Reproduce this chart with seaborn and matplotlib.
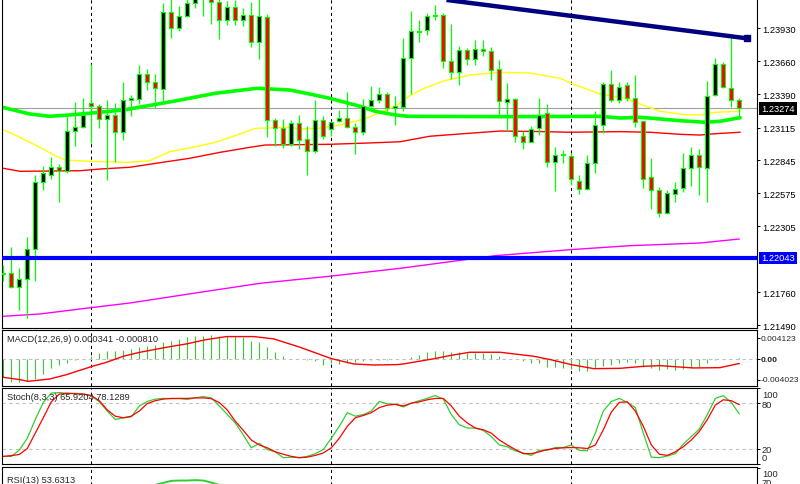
import matplotlib
matplotlib.use("Agg")
import matplotlib.pyplot as plt
import matplotlib.transforms as mtransforms
import seaborn as sns

# ---- candles ----
opens = [1.21917, 1.21917, 1.21802, 1.21868, 1.22114, 1.22665, 1.22728, 1.22788, 1.22755, 1.23084,
         1.23117, 1.23314, 1.23295, 1.23182, 1.23215, 1.23076, 1.23341, 1.23347, 1.23552, 1.23486,
         1.23429, 1.24062, 1.23930, 1.24029, 1.24135, 1.24239, 1.24212, 1.24144, 1.24001, 1.24103,
         1.23996, 1.24040, 1.23821, 1.24020, 1.23180, 1.23109, 1.22983, 1.23150, 1.23018, 1.22925,
         1.23174, 1.23100, 1.23166, 1.23191, 1.23117, 1.23076, 1.23289, 1.23344, 1.23388, 1.23276,
         1.23284, 1.23684, 1.23903, 1.23919, 1.24034, 1.24040, 1.23659, 1.23569, 1.23749, 1.23675,
         1.23758, 1.23741, 1.23593, 1.23322, 1.23347, 1.23043, 1.22999, 1.23109, 1.23232, 1.22835,
         1.22889, 1.22878, 1.22679, 1.22607, 1.22821, 1.23139, 1.23475, 1.23339, 1.23465, 1.23355,
         1.23166, 1.22706, 1.22605, 1.22410, 1.22566, 1.22616, 1.22780, 1.22887, 1.22780, 1.23385,
         1.23634, 1.23437, 1.23339]
highs = [1.21986, 1.22134, 1.21958, 1.22216, 1.22725, 1.22802, 1.22873, 1.22813, 1.23213, 1.23328,
         1.23360, 1.23634, 1.23306, 1.23344, 1.23317, 1.23489, 1.23382, 1.23629, 1.23596, 1.23555,
         1.24138, 1.24185, 1.24116, 1.24185, 1.24212, 1.24281, 1.24253, 1.24198, 1.24157, 1.24163,
         1.24094, 1.24144, 1.24185, 1.24048, 1.23193, 1.23185, 1.23177, 1.23218, 1.23128, 1.23341,
         1.23210, 1.23172, 1.23256, 1.23407, 1.23152, 1.23349, 1.23454, 1.23448, 1.23404, 1.23371,
         1.23848, 1.24072, 1.23999, 1.24056, 1.24122, 1.24056, 1.23966, 1.23785, 1.23768, 1.23831,
         1.23831, 1.23777, 1.23670, 1.23481, 1.23355, 1.23089, 1.23130, 1.23360, 1.23306, 1.22952,
         1.22931, 1.22909, 1.22725, 1.22889, 1.23251, 1.23492, 1.23588, 1.23486, 1.23489, 1.23547,
         1.23172, 1.22865, 1.22624, 1.22599, 1.22668, 1.22906, 1.22955, 1.22941, 1.23497, 1.23684,
         1.23653, 1.23878, 1.23358]
lows = [1.21857, 1.21794, 1.21619, 1.21548, 1.21857, 1.22605, 1.22692, 1.22506, 1.22739, 1.22966,
        1.23114, 1.22988, 1.23109, 1.22687, 1.22835, 1.23015, 1.23213, 1.23308, 1.23426, 1.23273,
        1.23333, 1.23853, 1.23911, 1.24023, 1.24097, 1.24034, 1.23966, 1.23842, 1.23960, 1.23960,
        1.23946, 1.23774, 1.23678, 1.23037, 1.22966, 1.22950, 1.22963, 1.22939, 1.22728, 1.22906,
        1.23024, 1.23048, 1.23158, 1.23109, 1.22900, 1.23056, 1.23281, 1.23317, 1.23254, 1.23139,
        1.23254, 1.23391, 1.23815, 1.23878, 1.24001, 1.23604, 1.23514, 1.23467, 1.23632, 1.23632,
        1.23705, 1.23506, 1.23207, 1.23089, 1.22999, 1.22941, 1.22999, 1.23056, 1.22794, 1.22596,
        1.22826, 1.22646, 1.22572, 1.22605, 1.22744, 1.23073, 1.23322, 1.23319, 1.23336, 1.23122,
        1.22618, 1.22449, 1.22383, 1.22402, 1.22506, 1.22588, 1.22635, 1.22564, 1.22506, 1.23374,
        1.23440, 1.23287, 1.23185]
closes = [1.21909, 1.21802, 1.21868, 1.22114, 1.22665, 1.22739, 1.22788, 1.22755, 1.23084, 1.23117,
          1.23215, 1.23295, 1.23182, 1.23215, 1.23076, 1.23339, 1.23355, 1.23552, 1.23486, 1.23437,
          1.24067, 1.23930, 1.24029, 1.24135, 1.24179, 1.24198, 1.24144, 1.23996, 1.24103, 1.24001,
          1.24037, 1.23821, 1.24029, 1.23180, 1.23109, 1.22983, 1.23150, 1.23010, 1.22925, 1.23174,
          1.23043, 1.23158, 1.23191, 1.23117, 1.23076, 1.23289, 1.23339, 1.23388, 1.23278, 1.23292,
          1.23684, 1.23905, 1.23908, 1.24029, 1.24040, 1.23659, 1.23569, 1.23749, 1.23675, 1.23758,
          1.23741, 1.23590, 1.23330, 1.23347, 1.23043, 1.22999, 1.23106, 1.23221, 1.22835, 1.22887,
          1.22895, 1.22690, 1.22607, 1.22821, 1.23139, 1.23475, 1.23339, 1.23451, 1.23355, 1.23158,
          1.22695, 1.22602, 1.22410, 1.22574, 1.22607, 1.22780, 1.22887, 1.22794, 1.23377, 1.23634,
          1.23451, 1.23339, 1.23274]

# moving averages (bar index, price)
ma_green_x = [-0.4, 3.3, 5.8, 8.3, 12.1, 15.2, 21.5, 26.5, 31.7, 35.8, 38.3, 40.8, 44.6, 46.5,
              49.0, 50.6, 62.7, 74.6, 77.1, 79.6, 84.6, 87.7, 89.6, 92.1]
ma_green = [1.23286, 1.23226, 1.23207, 1.23218, 1.23240, 1.23261, 1.23333, 1.23396, 1.23437, 1.23423,
            1.23390, 1.23355, 1.23289, 1.23248, 1.23218, 1.23207, 1.23204, 1.23207, 1.23193, 1.23199,
            1.23171, 1.23158, 1.23166, 1.23196]
ma_yellow_x = [0.0, 2.1, 4.6, 6.5, 7.7, 10.8, 15.8, 18.3, 20.8, 24.0, 26.5, 29.0, 31.5, 35.8, 37.1,
               39.6, 42.1, 44.0, 45.8, 47.1, 49.0, 50.8, 52.7, 55.2, 58.3, 62.1, 65.8, 69.6, 71.5,
               73.3, 74.6, 77.7, 79.6, 82.1, 85.2, 87.1, 89.0, 92.1]
ma_yellow = [1.23097, 1.23034, 1.22952, 1.22883, 1.22848, 1.22837, 1.22829, 1.22842, 1.22916, 1.22957,
             1.22993, 1.23048, 1.23108, 1.23117, 1.23103, 1.23111, 1.23136, 1.23166, 1.23201, 1.23240,
             1.23289, 1.23376, 1.23440, 1.23500, 1.23546, 1.23568, 1.23563, 1.23519, 1.23464, 1.23423,
             1.23390, 1.23355, 1.23308, 1.23248, 1.23220, 1.23218, 1.23240, 1.23248]
ma_red_x = [0.0, 2.1, 9.6, 12.1, 15.8, 19.6, 23.3, 27.1, 30.8, 32.7, 40.8, 45.8, 49.6, 53.3, 57.1,
            62.1, 67.7, 70.8, 77.1, 80.8, 84.6, 87.1, 89.0, 92.1]
ma_red = [1.22780, 1.22755, 1.22760, 1.22774, 1.22788, 1.22826, 1.22862, 1.22911, 1.22952, 1.22971,
          1.22977, 1.22988, 1.22998, 1.23043, 1.23062, 1.23086, 1.23081, 1.23076, 1.23081, 1.23076,
          1.23059, 1.23053, 1.23064, 1.23076]
ma_magenta_x = [0.0, 4.6, 9.6, 15.8, 24.6, 32.1, 40.8, 49.6, 57.5, 61.5, 70.8, 78.3, 87.1, 92.0]
ma_magenta = [1.21564, 1.21583, 1.21624, 1.21673, 1.21761, 1.21835, 1.21893, 1.21958, 1.22027, 1.22062,
              1.22111, 1.22144, 1.22166, 1.22199]

trend_x = [55.4, 92.9]
trend_y = [1.24163, 1.23848]
support_level = 1.22043
bid_price = 1.23274
separators = [11, 41, 71]
price_ticks = [1.23930, 1.23660, 1.23390, 1.23115, 1.22845, 1.22575, 1.22305, 1.21760, 1.21490]

# MACD(12,26,9)
macd_hist = [-0.00351, -0.00449, -0.00449, -0.00429, -0.00384, -0.00286, -0.00176, -0.00104, -0.00065, -0.00005,
             0.00005, 0.00059, 0.00124, 0.00156, 0.00169, 0.00189, 0.00202, 0.00234, 0.00254, 0.00280,
             0.00332, 0.00364, 0.00397, 0.00429, 0.00449, 0.00462, 0.00475, 0.00462, 0.00449, 0.00449,
             0.00429, 0.00364, 0.00332, 0.00234, 0.00143, 0.00059, 0.00013, 0.00000, -0.00013, -0.00039,
             -0.00104, -0.00078, -0.00091, -0.00078, -0.00059, -0.00039, -0.00013, -0.00013, -0.00013, 0.00013,
             0.00013, 0.00039, 0.00091, 0.00137, 0.00156, 0.00169, 0.00143, 0.00137, 0.00124, 0.00124,
             0.00124, 0.00104, 0.00059, 0.00013, 0.00000, -0.00039, -0.00078, -0.00078, -0.00143, -0.00156,
             -0.00176, -0.00189, -0.00221, -0.00234, -0.00176, -0.00137, -0.00117, -0.00078, -0.00059, -0.00078,
             -0.00156, -0.00176, -0.00202, -0.00195, -0.00202, -0.00195, -0.00176, -0.00143, -0.00078, -0.00013,
             0.00000, 0.00007, 0.00034]
macd_sig_x = [0, 2.1, 3.1, 5.8, 7.9, 11, 12.9, 15, 17.1, 20.4, 22.9, 25.4, 27.9, 31.3, 33.8, 37.1, 41,
              43.8, 46.3, 49.2, 50, 53.7, 55.8, 58.3, 62.1, 66.3, 68.4, 71, 73.8, 77.1, 80, 82.1, 86.3,
              89.6, 92]
macd_sig = [-0.00351, -0.00397, -0.00429, -0.00384, -0.00299, -0.00143, -0.00059, 0.00059, 0.00137, 0.00234,
            0.00299, 0.00384, 0.00442, 0.00442, 0.00397, 0.00234, 0.00013, -0.00091, -0.00111, -0.00104,
            -0.00091, 0.00007, 0.00072, 0.00137, 0.00137, 0.00059, -0.00007, -0.00104, -0.00182, -0.00176,
            -0.00137, -0.00124, -0.00169, -0.00163, -0.00081]
macd_ticks = [0.004123, 0, -0.004023]
macd_labels = ["0.004123", "0.00", "-0.004023"]

# Stoch(8,3,3)
stoch_k = [10.1, 10, 18.2, 33.9, 58.5, 80.9, 93.4, 94, 93, 93,
           92, 90, 81.8, 69.7, 58.5, 60.8, 62, 76.4, 82.3, 85.4,
           86.3, 86, 86, 85, 87, 88.7, 87, 76.4, 65.2, 54,
           38.3, 21.3, 27.1, 19, 16, 8.3, 9, 8.3, 10, 13.6,
           19, 33.9, 49.6, 67.5, 62.9, 65, 69.7, 82.3, 79.1, 78.5,
           75.1, 80, 83.3, 86.3, 90, 85.4, 65, 51.7, 47.3, 47.3,
           44.2, 36.1, 25, 22.7, 17.3, 14.5, 11.3, 18, 18, 21.7,
           21.7, 25, 18, 17.3, 40.6, 69.7, 82.3, 86.3, 81, 74.2,
           40.6, 9, 8.3, 10.5, 13.6, 26.2, 36.1, 46, 65, 86.3,
           90, 81, 65.9]
stoch_d = [10, 11, 12.5, 20.4, 40.6, 60.8, 81.8, 92, 93, 92.4,
           92, 90, 83.3, 71.1, 62.9, 60.8, 62.9, 69.7, 79.5, 83.3,
           85.4, 86.3, 86.3, 86.3, 87, 87, 86, 80.9, 71.1, 56.3,
           44.2, 31.6, 25, 21.3, 16, 12.9, 10, 8.3, 9, 11.3,
           14.5, 21.3, 33.9, 49.6, 60.8, 63.9, 67.5, 74.2, 77.4, 78.5,
           76.4, 80, 81.8, 84.5, 86.3, 86.3, 76.4, 62.9, 54, 47.3,
           45, 40.6, 31.6, 25, 19.1, 13.6, 13.6, 16, 19, 20.4,
           21.3, 21.7, 21.3, 20.4, 25, 45, 68.4, 81, 81.8, 69.7,
           49.6, 25, 12.9, 11.3, 16, 22.7, 31.6, 42.8, 58.5, 77.4,
           84.5, 83.3, 78.1]
stoch_levels = [100, 80, 20, 0]

# RSI(13) - only the part that shows above the cut
rsi_x = [19, 20, 21, 22, 23, 24, 25, 26, 27]
rsi_vals = [68, 71.9, 75.6, 76.2, 76.2, 76.9, 76.2, 72.4, 68]
rsi_levels = [100, 70]

sns.set_style("white")
plt.rcParams['font.family'] = ['Liberation Sans', 'DejaVu Sans']
FS = 6.7
LIME = '#00FF00'

fig = plt.figure(figsize=(8, 4.85), dpi=100)
W, H = 800.0, 485.0


def rect(top, bottom):
    return [2 / W, 1 - bottom / H, 755 / W, (bottom - top) / H]


ax = fig.add_axes(rect(0, 329))
ax_macd = fig.add_axes(rect(331, 387))
ax_st = fig.add_axes(rect(389, 465))
ax_rsi = fig.add_axes(rect(467.5, 522.3))

xlim = (-0.16, 94.21)
n = len(closes)
idx = list(range(n))
LBL_X = 1.0066  # where the right-hand labels start (axes fraction)

# ---- main price panel ----
ax.vlines(idx, lows, highs, color=LIME, linewidth=0.9, zorder=3)
for i in idx:
    o, c = opens[i], closes[i]
    face = 'black' if c >= o else '#FF0000'
    ax.bar(i, max(abs(c - o), 0.00002), bottom=min(o, c), width=0.5,
           color=face, edgecolor=LIME, linewidth=0.8, zorder=4)

sns.lineplot(x=ma_magenta_x, y=ma_magenta, ax=ax, color='#FF00FF', linewidth=1.0, zorder=2)
sns.lineplot(x=ma_red_x, y=ma_red, ax=ax, color='#FF0000', linewidth=1.0, zorder=2)
sns.lineplot(x=ma_yellow_x, y=ma_yellow, ax=ax, color='#FFFF00', linewidth=1.0, zorder=2)
sns.lineplot(x=ma_green_x, y=ma_green, ax=ax, color=LIME, linewidth=2.6, zorder=2)
ax.axhline(bid_price, color='#A0A0A0', linewidth=0.8, zorder=1)
ax.axhline(support_level, color='#0000FF', linewidth=3.0, zorder=5)
ax.plot(trend_x, trend_y, color='#000080', linewidth=3.2, zorder=5, solid_capstyle='butt')
ax.plot(trend_x[-1:], trend_y[-1:], marker='s', markersize=5, color='#000080', zorder=5)

ax.set_ylim(1.214678, 1.241707)
ax.set_yticks(price_ticks)
ax.set_yticklabels([f"{t:.5f}" for t in price_ticks])

trans = mtransforms.blended_transform_factory(ax.transAxes, ax.transData)
ax.text(1.0055, bid_price, f"{bid_price:.5f}", transform=trans, color='white', fontsize=FS,
        va='center', ha='left', clip_on=False, zorder=10,
        bbox=dict(boxstyle='square,pad=0.2', fc='black', ec='none'))
ax.text(1.0055, support_level, f"{support_level:.5f}", transform=trans, color='white', fontsize=FS,
        va='center', ha='left', clip_on=False, zorder=10,
        bbox=dict(boxstyle='square,pad=0.2', fc='#0000FF', ec='none'))

# ---- MACD ----
ax_macd.vlines(idx, 0, macd_hist, color='#32CD32', linewidth=0.8)
ax_macd.axhline(0, color='#C0C0C0', linewidth=0.8, linestyle=(0, (3, 3)))
sns.lineplot(x=macd_sig_x, y=macd_sig, ax=ax_macd, color='#FF0000', linewidth=1.0)
ax_macd.set_ylim(-0.0052, 0.0057)
ax_macd.set_yticks(macd_ticks)
ax_macd.set_yticklabels([""] * len(macd_ticks))
mtrans = mtransforms.blended_transform_factory(ax_macd.transAxes, ax_macd.transData)
for t, lab in zip(macd_ticks, macd_labels):
    ax_macd.text(LBL_X - 0.002, t, lab, transform=mtrans, fontsize=6.1, va='center', ha='left',
                 clip_on=False, fontweight='bold' if t == 0 else 'normal')
ax_macd.text(0.006, 0.84, "MACD(12,26,9) 0.000341 -0.000810", transform=ax_macd.transAxes,
             fontsize=FS, va='center', ha='left')

# ---- Stochastic ----
for lvl in (20, 80):
    ax_st.axhline(lvl, color='#C0C0C0', linewidth=0.8, linestyle=(0, (3, 3)))
sns.lineplot(x=idx, y=stoch_k, ax=ax_st, color='#32CD32', linewidth=0.9)
sns.lineplot(x=idx, y=stoch_d, ax=ax_st, color='#FF0000', linewidth=0.9)
ax_st.set_ylim(0, 100)
ax_st.set_yticks(stoch_levels)
ax_st.set_yticklabels([""] * len(stoch_levels))
# MT4 keeps the end labels inside the panel
st_label_y = [0.908, 0.777, 0.188, 0.085]
for lvl, fy in zip(stoch_levels, st_label_y):
    ax_st.text(LBL_X, fy, str(lvl), transform=ax_st.transAxes, fontsize=FS,
               va='center', ha='left', clip_on=False)
ax_st.text(0.006, 0.886, "Stoch(8,3,3) 65.9204 78.1289", transform=ax_st.transAxes,
           fontsize=FS, va='center', ha='left')

# ---- RSI ----
sns.lineplot(x=rsi_x, y=rsi_vals, ax=ax_rsi, color='#32CD32', linewidth=1.4)
ax_rsi.set_ylim(0, 102.4)
ax_rsi.set_yticks(rsi_levels)
ax_rsi.set_yticklabels([""] * len(rsi_levels))
rsi_label_y = [0.881, 0.70]
for lvl, fy in zip(rsi_levels, rsi_label_y):
    ax_rsi.text(LBL_X, fy, str(lvl), transform=ax_rsi.transAxes, fontsize=FS,
                va='center', ha='left', clip_on=False)
ax_rsi.text(0.006, 0.765, "RSI(13) 53.6313", transform=ax_rsi.transAxes,
            fontsize=FS, va='center', ha='left')

# ---- common styling ----
for a in (ax, ax_macd, ax_st, ax_rsi):
    a.set_xlim(*xlim)
    a.set_xticks([])
    a.set_xlabel('')
    a.set_ylabel('')
    a.yaxis.tick_right()
    a.tick_params(axis='y', direction='out', length=2.2, width=0.7, pad=1.5,
                  labelsize=FS, colors='black', right=True, left=False)
    for s in a.spines.values():
        s.set_color('black')
        s.set_linewidth(0.8)
    for sx in separators:
        a.axvline(sx, color='black', linewidth=0.75, linestyle=(0, (3, 3)), zorder=1)
    leg = a.get_legend()
    if leg is not None:
        leg.remove()
ax.spines['top'].set_visible(False)

fig.savefig("out.png", dpi=100)
